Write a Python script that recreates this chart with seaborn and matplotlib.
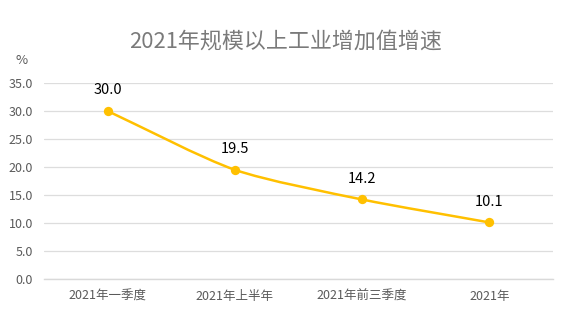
import numpy as np
import matplotlib
matplotlib.use("Agg")
import matplotlib.pyplot as plt
from matplotlib.path import Path
from matplotlib.patches import PathPatch
import seaborn as sns
import pandas as pd

# Data
periods = ["2021年一季度", "2021年上半年", "2021年前三季度", "2021年"]
growth = [30.0, 19.5, 14.2, 10.1]
y_ticks = [0, 5, 10, 15, 20, 25, 30, 35]

sns.set_theme(style="white")
plt.rcParams["font.family"] = ["Noto Sans CJK SC", "DejaVu Sans"]

df = pd.DataFrame({"period": periods, "growth": growth})
df["x"] = np.arange(len(periods))

fig = plt.figure(figsize=(5.8, 3.29), dpi=100)
ax = fig.add_axes([44 / 580, 1 - 279 / 329, 509 / 580, 196 / 329])

ax.set_xlim(-0.5, len(periods) - 0.5)
ax.set_ylim(0, 35)

line_color = "#FFC000"

# Smooth bezier curve through the points (computed in display space)
pts = ax.transData.transform(np.column_stack([df["x"], df["growth"]]))
smooth = 0.25
n = len(pts)
verts = [pts[0]]
codes = [Path.MOVETO]
cps = []
for i in range(n):
    prev = pts[i - 1] if i > 0 else pts[i]
    nxt = pts[i + 1] if i < n - 1 else pts[i]
    v = nxt - prev
    d0 = np.linalg.norm(pts[i] - prev)
    d1 = np.linalg.norm(nxt - pts[i])
    tot = d0 + d1 if d0 + d1 > 0 else 1
    cp0 = pts[i] - v * smooth * d0 / tot
    cp1 = pts[i] + v * smooth * d1 / tot
    cps.append((cp0, cp1))
for i in range(n - 1):
    verts += [cps[i][1], cps[i + 1][0], pts[i + 1]]
    codes += [Path.CURVE4] * 3
verts = ax.transData.inverted().transform(np.array(verts))
ax.add_patch(PathPatch(Path(verts, codes), facecolor="none",
                       edgecolor=line_color, lw=1.8, zorder=3))

sns.scatterplot(data=df, x="x", y="growth", ax=ax, color=line_color,
                s=45, edgecolor=line_color, linewidth=0, zorder=4, legend=False)

for xi, yi in zip(df["x"], df["growth"]):
    ax.annotate(f"{yi:.1f}", (xi, yi), xytext=(0, 10), textcoords="offset points",
                ha="center", va="bottom", fontsize=10.5, color="#000000",
                family=["Noto Sans CJK SC", "DejaVu Sans"])

ax.set_yticks(y_ticks)
ax.set_yticklabels([f"{v:.1f}" for v in y_ticks])
ax.set_xticks(df["x"])
ax.set_xticklabels(periods)
ax.tick_params(axis="both", length=0, labelsize=9, colors="#5a5a5a")
ax.tick_params(axis="y", pad=8)
ax.tick_params(axis="x", pad=8)
ax.set_xlabel("")
ax.set_ylabel("")
ax.grid(axis="y", color="#dddddd", lw=0.9)
ax.grid(axis="x", visible=False)
for side in ["top", "right", "left"]:
    ax.spines[side].set_visible(False)
ax.spines["bottom"].set_color("#d9d9d9")
ax.spines["bottom"].set_linewidth(1.0)

fig.text(22 / 580, 1 - 60 / 329, "%", ha="center", va="center",
         fontsize=9.5, color="#5a5a5a")
fig.text(286 / 580, 1 - 42 / 329, "2021年规模以上工业增加值增速", ha="center",
         va="center", fontsize=15.8, color="#7a7a7a", fontweight="light")

fig.savefig("out.png", dpi=100)
